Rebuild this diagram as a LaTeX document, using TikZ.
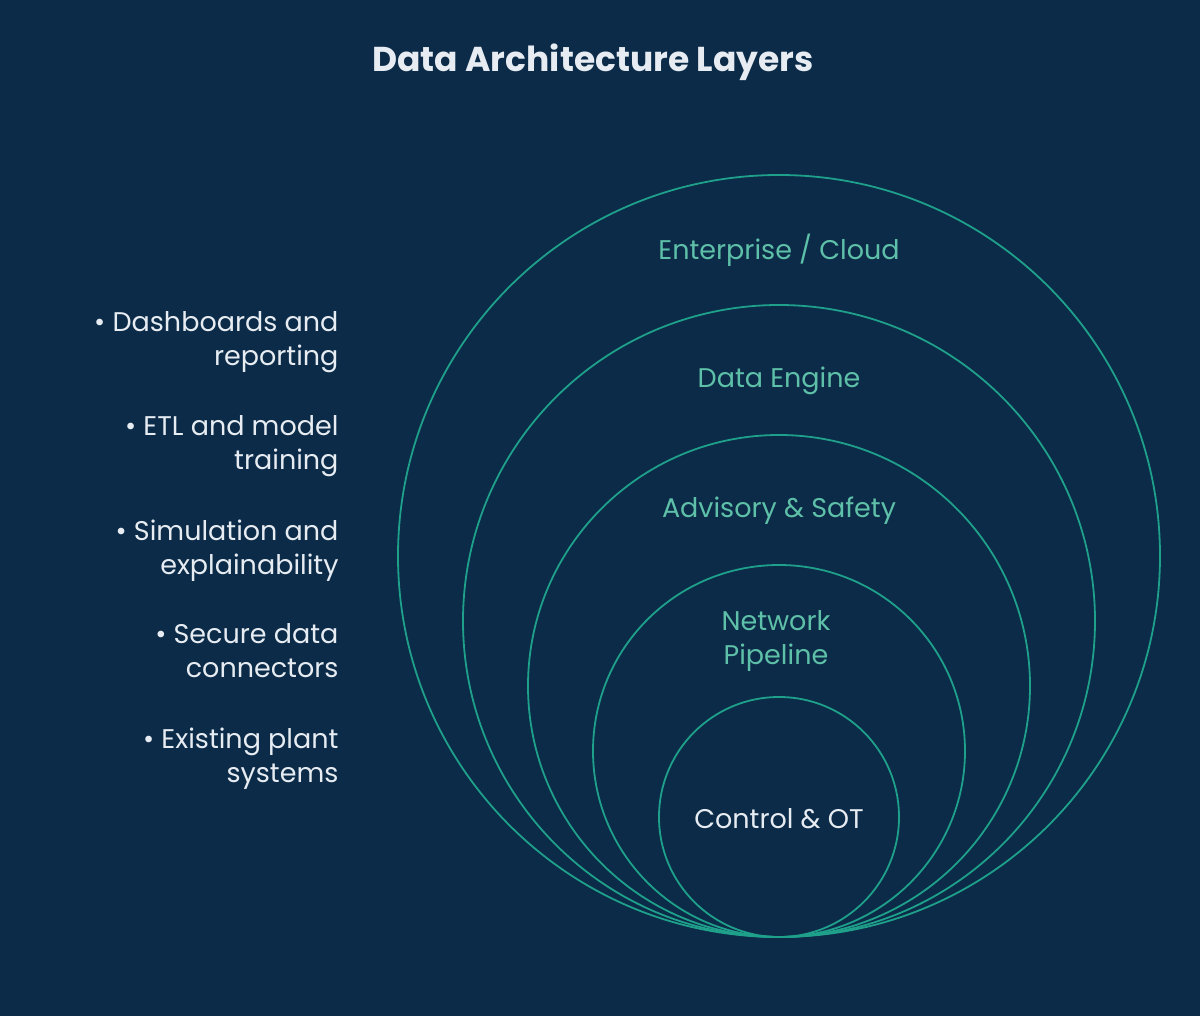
\documentclass[tikz,border=0pt]{standalone}
\usepackage{fontspec}
\setmainfont{Poppins}
\definecolor{bg}{HTML}{0B2B48}
\definecolor{ring}{HTML}{1FA08A}
\definecolor{lab}{HTML}{5EC0A8}
\definecolor{txt}{HTML}{E6ECF1}
\begin{document}
\begin{tikzpicture}[x=1pt,y=-1pt,
  ring/.style={draw=ring,line width=1.8pt},
  lab/.style={text=lab,font=\fontsize{27}{34}\selectfont,align=center},
  bul/.style={text=txt,font=\fontsize{27}{34}\selectfont,align=right,anchor=north east}]
\fill[bg] (0,0) rectangle (1200,1016);
\useasboundingbox (0,0) rectangle (1200,1016);
\node[text=txt,font=\fontsize{34.5}{40}\selectfont\bfseries] (title) at (593,62) {Data Architecture Layers};
\draw[ring] (779,556) circle (381);
\draw[ring] (779,621) circle (316);
\draw[ring] (779,686) circle (251);
\draw[ring] (779,751) circle (186);
\draw[ring] (779,817) circle (120);
\node[lab] (l1) at (779,250) {Enterprise / Cloud};
\node[lab] (l2) at (779,381) {Data Engine};
\node[lab] (l3) at (779,511) {Advisory \& Safety};
\node[lab] (l4) at (776,641) {Network\\Pipeline};
\node[lab,text=txt] (l5) at (779,819) {Control \& OT};
\node[bul] (b1) at (342,308) {• Dashboards and\\reporting};
\node[bul] (b2) at (342,412) {• ETL and model\\training};
\node[bul] (b3) at (342,516) {• Simulation and\\explainability};
\node[bul] (b4) at (342,620) {• Secure data\\connectors};
\node[bul] (b5) at (342,724) {• Existing plant\\systems};
\end{tikzpicture}
\end{document}
